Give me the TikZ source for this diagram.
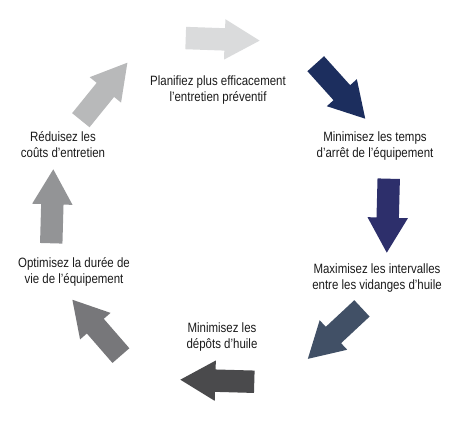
\documentclass[tikz,border=0pt]{standalone}
\usepackage{fontspec}
\setmainfont[FakeStretch=0.85]{Liberation Sans}
\usetikzlibrary{shapes.arrows}

\definecolor{arrowA}{HTML}{DADBDC}
\definecolor{arrowB}{HTML}{1C2E5E}
\definecolor{arrowC}{HTML}{2D2F6B}
\definecolor{arrowD}{HTML}{415066}
\definecolor{arrowE}{HTML}{4A4A4C}
\definecolor{arrowF}{HTML}{77777A}
\definecolor{arrowG}{HTML}{939496}
\definecolor{arrowH}{HTML}{B8B9BA}
\definecolor{steptext}{HTML}{1A1A1A}

\tikzset{
    cyclearrow/.style={single arrow, draw=none, inner xsep=0pt, inner ysep=11pt,
        minimum height=74pt, minimum width=40pt,
        single arrow head extend=9pt, single arrow tip angle=60},
    stepnote/.style={align=center, text=steptext, inner sep=0pt,
        font=\fontsize{13.5}{16}\selectfont}
}

\begin{document}
\begin{tikzpicture}[x=1pt,y=1pt]
    \useasboundingbox (0,0) rectangle (450,425);

    \node[cyclearrow, fill=arrowA, rotate=-2]     (plan)  at (213,386) {};
    \node[cyclearrow, fill=arrowB, rotate=-48]    (stop)  at (334,341) {};
    \node[cyclearrow, fill=arrowC, rotate=-91.5]  (oil)   at (388,219) {};
    \node[cyclearrow, fill=arrowD, rotate=-137]   (drain) at (342,98) {};
    \node[cyclearrow, fill=arrowE, rotate=178.4]  (dep)   at (227,44) {};
    \node[cyclearrow, fill=arrowF, rotate=131]    (life)  at (103,90) {};
    \node[cyclearrow, fill=arrowG, rotate=88.4]   (up)    at (52,209) {};
    \node[cyclearrow, fill=arrowH, rotate=51]     (cost)  at (98,326) {};

    \node[stepnote] (t1) at (218,335) {Planifiez plus efficacement\\l’entretien préventif};
    \node[stepnote] (t2) at (375,279) {Minimisez les temps\\d’arrêt de l’équipement};
    \node[stepnote] (t3) at (377,147) {Maximisez les intervalles\\entre les vidanges d’huile};
    \node[stepnote] (t4) at (222,88) {Minimisez les\\dépôts d’huile};
    \node[stepnote] (t5) at (74,153) {Optimisez la durée de\\vie de l’équipement};
    \node[stepnote] (t6) at (63,280) {Réduisez les\\coûts d’entretien};
\end{tikzpicture}
\end{document}
